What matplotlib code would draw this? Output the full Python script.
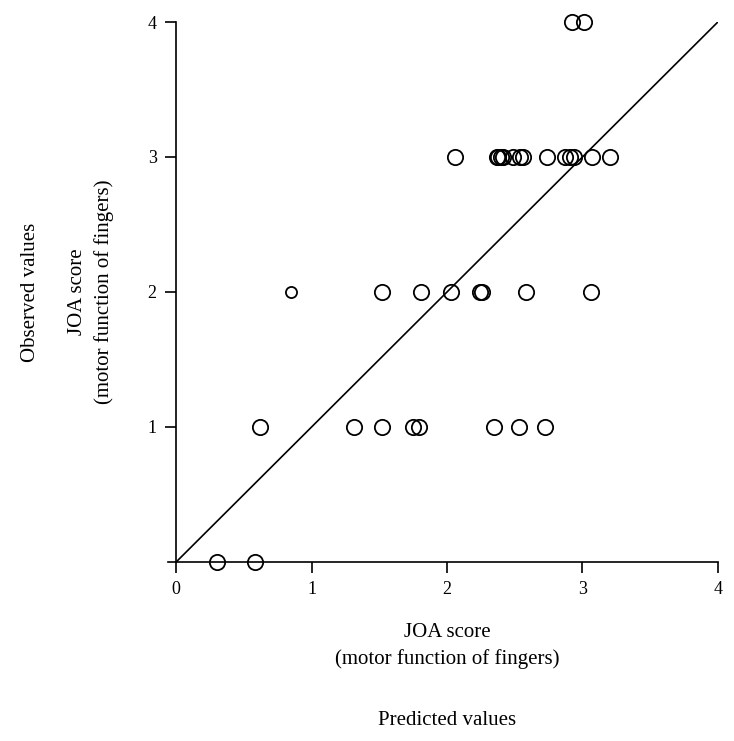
import matplotlib
matplotlib.use("Agg")
import matplotlib.pyplot as plt

plt.rcParams['font.family'] = ['Liberation Serif', 'DejaVu Serif']

# predicted (x) and observed (y) JOA scores
pred_0 = [0.30, 0.58]
pred_1 = [0.62, 1.31, 1.52, 1.75, 1.79, 2.35, 2.53, 2.72]
pred_2 = [1.52, 1.81, 2.03, 2.24, 2.26, 2.58, 3.06]
pred_2_small = [0.85]
pred_3 = [2.06, 2.37, 2.38, 2.40, 2.41, 2.49, 2.54, 2.56, 2.74, 2.87, 2.91, 2.94, 3.07, 3.20]
pred_4 = [2.92, 3.01]

observed_levels = [0, 1, 2, 3, 4]
ticks = [0, 1, 2, 3, 4]

fig = plt.figure(figsize=(7.34, 7.41), dpi=100)
ax = fig.add_axes([0.240, 0.2416, 0.738, 0.7287])

groups = [pred_0, pred_1, pred_2, pred_3, pred_4]
for level, xs in zip(observed_levels, groups):
    ax.plot(xs, [level] * len(xs), 'o', mfc='none', mec='black', ms=11, mew=1.3,
            clip_on=False, zorder=3)
ax.plot(pred_2_small, [2] * len(pred_2_small), 'o', mfc='none', mec='black', ms=8,
        mew=1.3, clip_on=False, zorder=3)

# line of identity
ax.plot([0, 4], [0, 4], color='black', lw=1.2)

ax.set_xlim(0, 4)
ax.set_ylim(0, 4)
ax.set_xticks(ticks)
ax.set_yticks(ticks[1:])
ax.spines['top'].set_visible(False)
ax.spines['right'].set_visible(False)
for s in ['left', 'bottom']:
    ax.spines[s].set_linewidth(1.2)
ax.tick_params(direction='out', length=8, width=1.2, labelsize=13, pad=6)
# y tick at 0 drawn as an extra outward tick without label
ax.plot([-0.06, 0], [0, 0], color='black', lw=1.2, clip_on=False)

fig.text(0.609, 0.128, 'JOA score\n(motor function of fingers)', ha='center', va='center',
         fontsize=15, linespacing=1.5)
fig.text(0.609, 0.028, 'Predicted values', ha='center', va='center', fontsize=15)
fig.text(0.041, 0.606, 'Observed values', ha='center', va='center', fontsize=15, rotation=90)
fig.text(0.124, 0.606, 'JOA score\n(motor function of fingers)', ha='center', va='center',
         fontsize=15, rotation=90, linespacing=1.5)

fig.savefig('out.png', dpi=100)
